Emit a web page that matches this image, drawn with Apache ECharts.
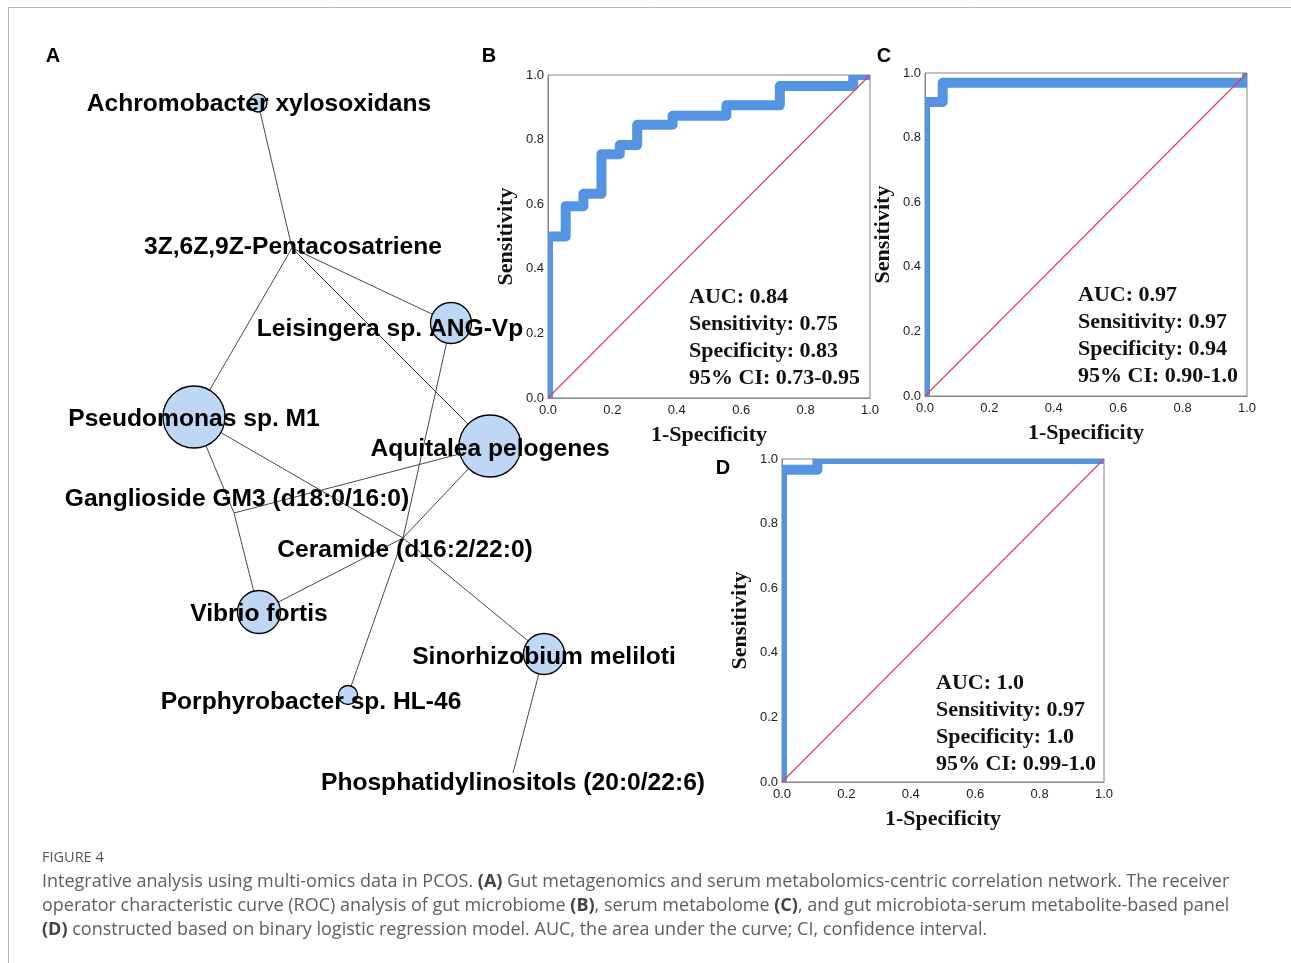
<!DOCTYPE html>
<html><head><meta charset="utf-8">
<script src="https://cdn.jsdelivr.net/npm/echarts@6/dist/echarts.min.js"></script>
<style>html,body{margin:0;padding:0;background:#fff}#c{width:1291px;height:963px}</style>
</head><body><div id="c"></div>
<script>
// ---------------- Panel A: correlation network ----------------
const bacteria = ['Achromobacter xylosoxidans','Leisingera sp. ANG-Vp','Pseudomonas sp. M1','Aquitalea pelogenes','Vibrio fortis','Sinorhizobium meliloti','Porphyrobacter sp. HL-46'];
const metabolites = ['3Z,6Z,9Z-Pentacosatriene','Ganglioside GM3 (d18:0/16:0)','Ceramide (d16:2/22:0)','Phosphatidylinositols (20:0/22:6)'];
const edgeFrom = ['3Z,6Z,9Z-Pentacosatriene','3Z,6Z,9Z-Pentacosatriene','3Z,6Z,9Z-Pentacosatriene','3Z,6Z,9Z-Pentacosatriene',
  'Ganglioside GM3 (d18:0/16:0)','Ganglioside GM3 (d18:0/16:0)','Ganglioside GM3 (d18:0/16:0)',
  'Ceramide (d16:2/22:0)','Ceramide (d16:2/22:0)','Ceramide (d16:2/22:0)','Ceramide (d16:2/22:0)','Ceramide (d16:2/22:0)','Ceramide (d16:2/22:0)',
  'Phosphatidylinositols (20:0/22:6)'];
const edgeTo = ['Achromobacter xylosoxidans','Pseudomonas sp. M1','Leisingera sp. ANG-Vp','Aquitalea pelogenes',
  'Pseudomonas sp. M1','Vibrio fortis','Aquitalea pelogenes',
  'Pseudomonas sp. M1','Sinorhizobium meliloti','Aquitalea pelogenes','Vibrio fortis','Leisingera sp. ANG-Vp','Porphyrobacter sp. HL-46',
  'Sinorhizobium meliloti'];

// ---------------- Panels B, C, D: ROC curves ----------------
const ticks = [0, 0.2, 0.4, 0.6, 0.8, 1.0];
const rocB_fpr = [0, 0, 0.055, 0.11, 0.166, 0.223, 0.277, 0.387, 0.554, 0.72, 0.948, 1.0];
const rocB_tpr = [0, 0.50, 0.594, 0.632, 0.755, 0.783, 0.846, 0.874, 0.906, 0.966, 1.0, 1.0];
const rocC_fpr = [0, 0, 0.055, 1.0];
const rocC_tpr = [0, 0.91, 0.97, 1.0];
const rocD_fpr = [0, 0, 0.11, 1.0];
const rocD_tpr = [0, 0.967, 1.0, 1.0];
const statsB = ['AUC: 0.84', 'Sensitivity: 0.75', 'Specificity: 0.83', '95% CI: 0.73-0.95'];
const statsC = ['AUC: 0.97', 'Sensitivity: 0.97', 'Specificity: 0.94', '95% CI: 0.90-1.0'];
const statsD = ['AUC: 1.0', 'Sensitivity: 0.97', 'Specificity: 1.0', '95% CI: 0.99-1.0'];
const panelLetters = ['A', 'B', 'C', 'D'];
const captionHead = 'FIGURE 4';
const captionLines = [
  'Integrative analysis using multi-omics data in PCOS. {b|(A)} Gut metagenomics and serum metabolomics-centric correlation network. The receiver',
  'operator characteristic curve (ROC) analysis of gut microbiome {b|(B)}, serum metabolome {b|(C)}, and gut microbiota-serum metabolite-based panel',
  '{b|(D)} constructed based on binary logistic regression model. AUC, the area under the curve; CI, confidence interval.'
];

// ---------------- layout (positions / sizes / styles) ----------------
const netLayout = {
  'Achromobacter xylosoxidans': [258, 103], 'Leisingera sp. ANG-Vp': [451, 323], 'Pseudomonas sp. M1': [194, 417],
  'Aquitalea pelogenes': [490, 446], 'Vibrio fortis': [259, 612], 'Sinorhizobium meliloti': [544, 654],
  'Porphyrobacter sp. HL-46': [348, 695],
  '3Z,6Z,9Z-Pentacosatriene': [292, 248], 'Ganglioside GM3 (d18:0/16:0)': [234, 513],
  'Ceramide (d16:2/22:0)': [403, 538], 'Phosphatidylinositols (20:0/22:6)': [513, 773]
};
const netSize = {
  'Achromobacter xylosoxidans': 18, 'Leisingera sp. ANG-Vp': 41, 'Pseudomonas sp. M1': 62, 'Aquitalea pelogenes': 62,
  'Vibrio fortis': 43, 'Sinorhizobium meliloti': 41, 'Porphyrobacter sp. HL-46': 19
};
const labelShift = {
  'Achromobacter xylosoxidans': [1, 1], 'Vibrio fortis': [0, 2], 'Sinorhizobium meliloti': [0, 3],
  'Leisingera sp. ANG-Vp': [-61, 6], 'Porphyrobacter sp. HL-46': [-37, 7], 'Pseudomonas sp. M1': [0, 2], 'Aquitalea pelogenes': [0, 3],
  '3Z,6Z,9Z-Pentacosatriene': [1, -1], 'Ganglioside GM3 (d18:0/16:0)': [3, -14], 'Ceramide (d16:2/22:0)': [2, 12],
  'Phosphatidylinositols (20:0/22:6)': [0, 10]
};
const rocGrids = [
  {left: 548, top: 75, width: 322, height: 323},
  {left: 925, top: 73, width: 322, height: 323},
  {left: 782, top: 459, width: 322, height: 323}
];
const rocColor = '#5494e2';

const chart = echarts.init(document.getElementById('c'), null, {renderer: 'canvas'});

const nodes = bacteria.concat(metabolites).map(n => ({
  name: n,
  value: netLayout[n],
  symbolSize: netSize[n] || 0,
  label: {offset: labelShift[n] || [0, 2]}
}));
const links = edgeFrom.map((s, i) => ({source: s, target: edgeTo[i]}));

const grids = [{left: 0, top: 0, width: 1291, height: 963, show: false}].concat(rocGrids.map(g => Object.assign({show: true, borderColor: '#858585', borderWidth: 1, backgroundColor: 'transparent'}, g)));

const xAxes = [{type: 'value', gridIndex: 0, min: 0, max: 1291, show: false}];
const yAxes = [{type: 'value', gridIndex: 0, min: 0, max: 963, inverse: true, show: false}];
for (let i = 1; i <= 3; i++) {
  const common = {
    type: 'value', gridIndex: i, min: ticks[0], max: ticks[ticks.length - 1], interval: 0.2,
    axisLine: {show: true, lineStyle: {color: '#858585', width: 1}}, axisTick: {show: false}, splitLine: {show: false},
    axisLabel: {formatter: v => v.toFixed(1), fontFamily: 'Liberation Sans', fontSize: 13, color: '#222'},
    nameLocation: 'middle', nameTextStyle: {fontFamily: 'Liberation Serif', fontWeight: 'bold', fontSize: 22, color: '#111'}
  };
  xAxes.push(Object.assign({}, common, {name: '1-Specificity', nameGap: 26, axisLabel: Object.assign({}, common.axisLabel, {margin: 6})}));
  yAxes.push(Object.assign({}, common, {name: 'Sensitivity', nameGap: 31, axisLabel: Object.assign({}, common.axisLabel, {margin: 4})}));
}

function stairRender(fpr, tpr) {
  return function (params, api) {
    if (params.dataIndex !== 0) return null;
    const pts = [api.coord([fpr[0], tpr[0]])];
    for (let k = 1; k < fpr.length; k++) {
      pts.push(api.coord([fpr[k], tpr[k - 1]]));
      pts.push(api.coord([fpr[k], tpr[k]]));
    }
    return {type: 'polyline', shape: {points: pts},
      style: {stroke: rocColor, fill: null, lineWidth: 10, lineJoin: 'round', lineCap: 'butt'}};
  };
}

const series = [{
  type: 'graph', layout: 'none', coordinateSystem: 'cartesian2d', xAxisIndex: 0, yAxisIndex: 0,
  data: nodes, links: links, symbol: 'circle',
  itemStyle: {color: '#bdd7f4', borderColor: '#000', borderWidth: 1.3},
  lineStyle: {color: '#333', width: 0.9, opacity: 1, curveness: 0},
  label: {show: true, position: 'inside', formatter: '{b}', fontFamily: 'Liberation Sans', fontWeight: 'bold', fontSize: 24.6, color: '#000'},
  emphasis: {disabled: true}, silent: true, z: 2
}];
const rocs = [[rocB_fpr, rocB_tpr], [rocC_fpr, rocC_tpr], [rocD_fpr, rocD_tpr]];
rocs.forEach((r, i) => {
  series.push({
    type: 'custom', xAxisIndex: i + 1, yAxisIndex: i + 1, clip: true, silent: true, z: 3,
    data: r[0].map((x, k) => [x, r[1][k]]), encode: {x: 0, y: 1},
    renderItem: stairRender(r[0], r[1])
  });
  series.push({
    type: 'line', xAxisIndex: i + 1, yAxisIndex: i + 1, symbol: 'none', clip: true,
    data: [[0, 0], [1, 1]],
    lineStyle: {color: '#e2395f', width: 1.1}, z: 4, silent: true, emphasis: {disabled: true}
  });
});

const statBlocks = [[statsB, 689, 284], [statsC, 1078, 282], [statsD, 936, 670]];
const letterPos = [[53, 56], [489, 56], [884, 56], [723, 468]];
const graphic = [
  {type: 'line', shape: {x1: 8, y1: 7.5, x2: 1291, y2: 7.5}, style: {stroke: '#b5b5b5', lineWidth: 1}, silent: true},
  {type: 'line', shape: {x1: 8.5, y1: 7, x2: 8.5, y2: 963}, style: {stroke: '#b5b5b5', lineWidth: 1}, silent: true}
];
statBlocks.forEach(b => graphic.push({
  type: 'text', left: b[1], top: b[2], z: 10, silent: true,
  style: {text: b[0].join('\n'), font: 'bold 22px "Liberation Serif"', fill: '#111', lineHeight: 27}
}));
panelLetters.forEach((L, i) => graphic.push({
  type: 'text', x: letterPos[i][0], y: letterPos[i][1], z: 10, silent: true,
  style: {text: L, font: 'bold 20px "Liberation Sans"', fill: '#000', align: 'center', verticalAlign: 'middle'}
}));
graphic.push({type: 'text', x: 42, y: 858, silent: true,
  style: {text: captionHead, font: '14.5px "Open Sans"', fill: '#555', verticalAlign: 'middle'}});
captionLines.forEach((t, i) => graphic.push({
  type: 'text', x: 42, y: 882 + i * 24, silent: true,
  style: {text: t, font: '18px "Open Sans"', fill: '#5e5e5e', verticalAlign: 'middle',
    rich: {b: {fontFamily: 'Open Sans', fontSize: 18, fontWeight: 'bold', fill: '#444'}}}
}));

chart.setOption({
  animation: false,
  backgroundColor: '#fff',
  grid: grids, xAxis: xAxes, yAxis: yAxes, series: series, graphic: graphic
});
</script></body></html>
